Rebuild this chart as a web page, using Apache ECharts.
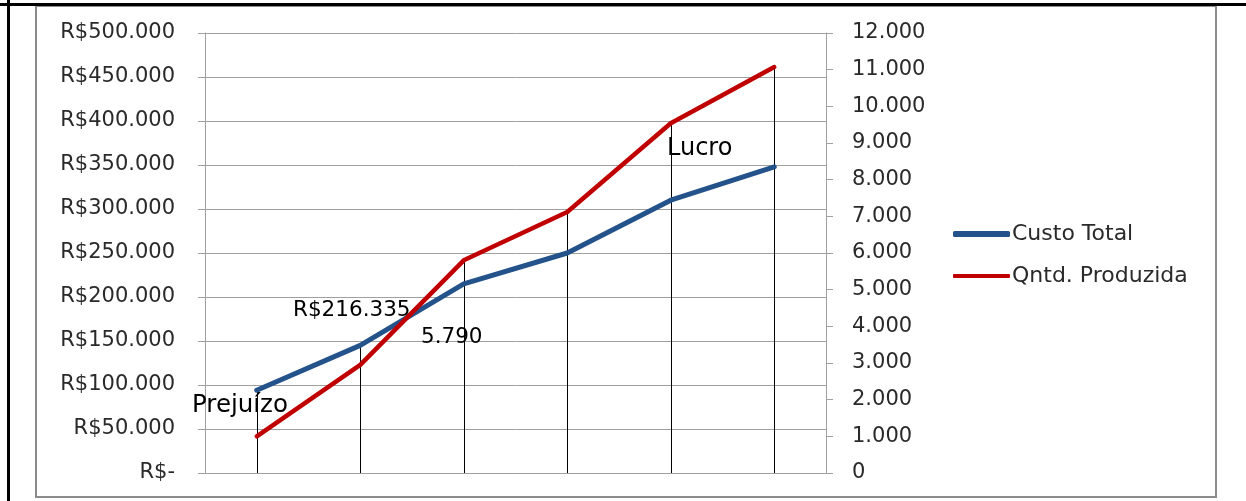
<!DOCTYPE html>
<html>
<head>
<meta charset="utf-8">
<script src="https://cdn.jsdelivr.net/npm/echarts@6/dist/echarts.min.js"></script>
<style>
html,body{margin:0;padding:0;background:#fff;}
#chart{width:1246px;height:501px;}
</style>
</head>
<body>
<div id="chart"></div>
<script>
var categories = ['1', '2', '3', '4', '5', '6'];
var custoTotal = [94000, 145000, 215000, 250000, 310000, 348000];
var qntdProduzida = [1000, 2950, 5800, 7120, 9540, 11070];
var leftMax = 500000, leftStep = 50000;
var rightMax = 12000, rightStep = 1000;
var annotations = [
  {text: 'Prejuízo', x: 192, y: 406, size: 24.5},
  {text: 'Lucro', x: 667, y: 149, size: 24},
  {text: 'R$216.335', x: 293, y: 310, size: 21.5},
  {text: '5.790', x: 421, y: 337, size: 21.5}
];

function dotted(v){
  return String(Math.round(v)).replace(/\B(?=(\d{3})+(?!\d))/g, '.');
}

var FONT = 'DejaVu Sans';
var chart = echarts.init(document.getElementById('chart'));

function dropLine(params, api){
  var top = api.coord([api.value(0), api.value(1)]);
  var bottom = api.coord([api.value(0), 0]);
  return {
    type: 'line',
    shape: {x1: Math.round(top[0]) + 0.5, y1: top[1], x2: Math.round(bottom[0]) + 0.5, y2: bottom[1]},
    style: {stroke: '#000', lineWidth: 1}
  };
}

var option = {
  animation: false,
  backgroundColor: '#fff',
  textStyle: {fontFamily: FONT},
  grid: {left: 205, right: 420, top: 33, bottom: 28, containLabel: false},
  xAxis: {
    type: 'category',
    data: categories,
    boundaryGap: true,
    axisLine: {show: true, lineStyle: {color: '#a0a0a0', width: 1}},
    axisTick: {show: false},
    axisLabel: {show: false},
    splitLine: {show: false}
  },
  yAxis: [
    {
      type: 'value', min: 0, max: leftMax, interval: leftStep,
      position: 'left',
      axisLine: {show: true, lineStyle: {color: '#a0a0a0', width: 1}},
      axisTick: {show: true, inside: false, length: 7, lineStyle: {color: '#a0a0a0'}},
      axisLabel: {
        margin: 30, fontFamily: FONT, fontSize: 21, color: '#2a2a2a', padding: [4, 0, 0, 0],
        formatter: function(v){ return v === 0 ? 'R$-' : 'R$' + dotted(v); }
      },
      splitLine: {show: true, lineStyle: {color: '#a0a0a0', width: 1}}
    },
    {
      type: 'value', min: 0, max: rightMax, interval: rightStep,
      position: 'right',
      axisLine: {show: true, lineStyle: {color: '#a0a0a0', width: 1}},
      axisTick: {show: true, inside: false, length: 7, lineStyle: {color: '#a0a0a0'}},
      axisLabel: {
        margin: 26, fontFamily: FONT, fontSize: 21, color: '#2a2a2a', padding: [3, 0, 0, 0],
        formatter: function(v){ return v === 0 ? '0' : dotted(v); }
      },
      splitLine: {show: false}
    }
  ],
  legend: [
    {
      left: 948, top: 218, orient: 'vertical',
      icon: 'roundRect', itemWidth: 57, itemHeight: 6,
      data: ['Custo Total'],
      textStyle: {fontFamily: FONT, fontSize: 22, color: '#2a2a2a', padding: [0,0,0,-3]}
    },
    {
      left: 948, top: 260, orient: 'vertical',
      icon: 'roundRect', itemWidth: 57, itemHeight: 4,
      data: ['Qntd. Produzida'],
      textStyle: {fontFamily: FONT, fontSize: 22, color: '#2a2a2a', padding: [0,0,0,-3]}
    }
  ],
  graphic: [
    {type: 'rect', shape: {x: 36, y: 6, width: 1180, height: 491}, style: {fill: 'none', stroke: '#8c8c8c', lineWidth: 2}, silent: true, z: -1},
    {type: 'line', shape: {x1: 0, y1: 4.5, x2: 1246, y2: 4.5}, style: {stroke: '#000', lineWidth: 3}, silent: true},
    {type: 'line', shape: {x1: 8.5, y1: 0, x2: 8.5, y2: 501}, style: {stroke: '#000', lineWidth: 3}, silent: true}
  ].concat(annotations.map(function(a){
    return {type: 'text', x: a.x, y: a.y, z: 100,
      style: {text: a.text, fontFamily: FONT, fontSize: a.size, fill: '#000', verticalAlign: 'middle', align: 'left'}};
  })),
  series: [
    {
      name: 'Custo Total', type: 'line', yAxisIndex: 0,
      data: custoTotal, showSymbol: false, symbol: 'none',
      lineStyle: {color: '#24528a', width: 5, cap: 'round', join: 'round'},
      itemStyle: {color: '#24528a'}, z: 3
    },
    {
      name: 'Qntd. Produzida', type: 'line', yAxisIndex: 1,
      data: qntdProduzida, showSymbol: false, symbol: 'none',
      lineStyle: {color: '#c00000', width: 4.5, cap: 'round', join: 'round'},
      itemStyle: {color: '#c00000'}, z: 4
    },
    {
      name: 'dropCusto', type: 'custom', yAxisIndex: 0,
      renderItem: dropLine,
      data: custoTotal.map(function(v, i){ return [i, v]; }),
      encode: {x: 0, y: 1}, z: 2, silent: true
    },
    {
      name: 'dropQntd', type: 'custom', yAxisIndex: 1,
      renderItem: dropLine,
      data: qntdProduzida.map(function(v, i){ return [i, v]; }),
      encode: {x: 0, y: 1}, z: 2, silent: true
    }
  ]
};
chart.setOption(option);
</script>
</body>
</html>
